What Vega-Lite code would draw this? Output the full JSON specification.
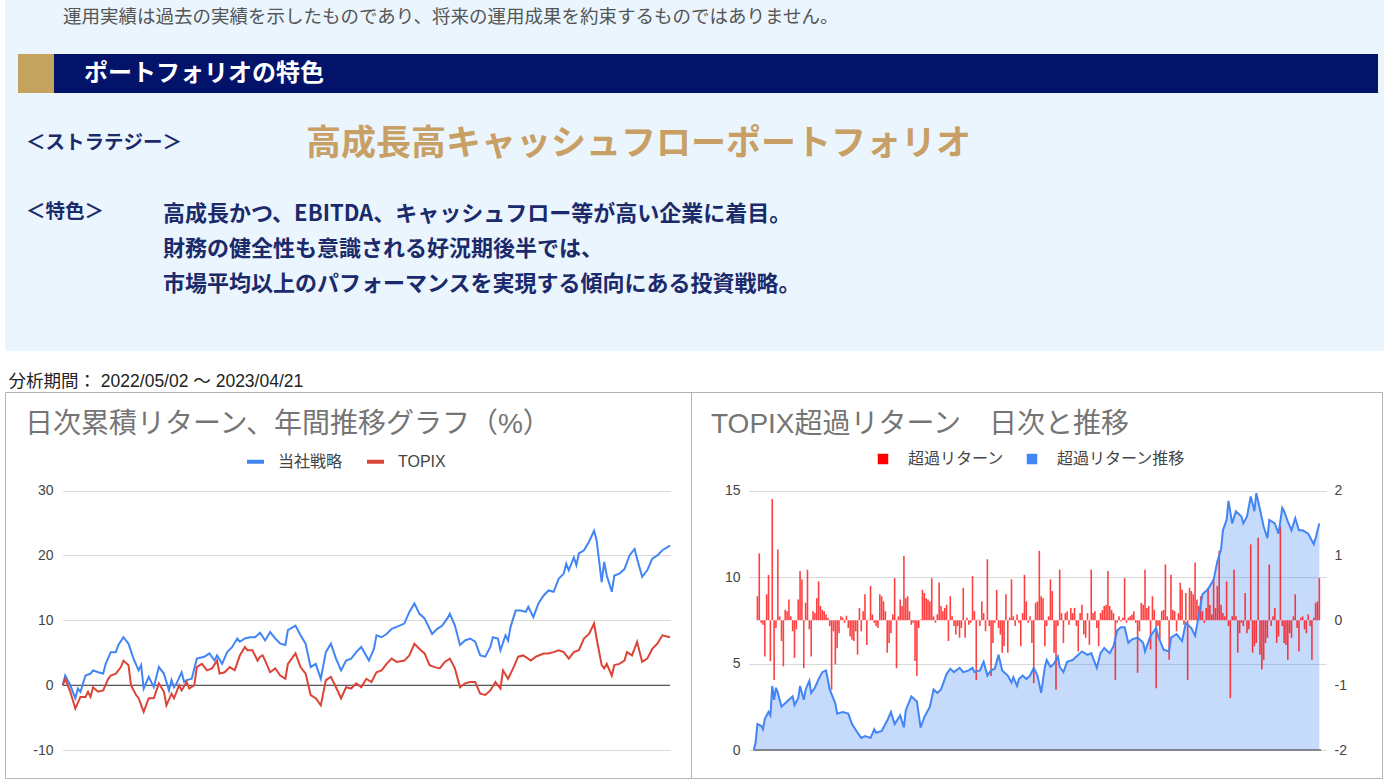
{
"$schema": "https://vega.github.io/schema/vega-lite/v6.json",
"background": "white",
"padding": {"left": 4, "top": 0, "right": 0, "bottom": 0},
"spacing": 21,
"config": {
  "font": "Liberation Sans, Noto Sans CJK JP",
  "view": {"stroke": null},
  "axisX": {"disable": true}
},
"resolve": {"scale": {"color": "independent"}, "legend": {"color": "independent"}},
"datasets": {
"strategy": [{"d":0,"v":0},{"d":1,"v":1.5},{"d":3,"v":0},{"d":5,"v":-2},{"d":6,"v":-0.5},{"d":7,"v":-1},{"d":9,"v":1.5},{"d":11,"v":1.8},{"d":12,"v":2.3},{"d":14,"v":2},{"d":16,"v":1.8},{"d":17,"v":3.3},{"d":19,"v":5.1},{"d":21,"v":5.1},{"d":22,"v":6.2},{"d":24,"v":7.4},{"d":26,"v":6.4},{"d":28,"v":4.1},{"d":30,"v":2.3},{"d":31,"v":3.1},{"d":32,"v":-0.5},{"d":34,"v":1.3},{"d":36,"v":-0.3},{"d":38,"v":2.8},{"d":40,"v":1.8},{"d":42,"v":-0.8},{"d":43,"v":0.8},{"d":44,"v":-0.3},{"d":45,"v":0.3},{"d":47,"v":2},{"d":48,"v":0.5},{"d":49,"v":0.8},{"d":51,"v":1},{"d":53,"v":4.1},{"d":56,"v":4.4},{"d":58,"v":4.9},{"d":60,"v":3.8},{"d":61,"v":4.6},{"d":63,"v":3.3},{"d":65,"v":5.1},{"d":67,"v":5.9},{"d":69,"v":7.2},{"d":70,"v":6.7},{"d":72,"v":7.2},{"d":74,"v":7.4},{"d":76,"v":7.4},{"d":78,"v":8.1},{"d":80,"v":6.9},{"d":82,"v":8.2},{"d":84,"v":7.2},{"d":86,"v":6.4},{"d":88,"v":6.2},{"d":89,"v":8.5},{"d":92,"v":9.2},{"d":94,"v":7.7},{"d":96,"v":6.4},{"d":98,"v":2.8},{"d":100,"v":3.3},{"d":102,"v":1},{"d":104,"v":5.1},{"d":106,"v":6.4},{"d":108,"v":4.1},{"d":110,"v":2.3},{"d":112,"v":3.8},{"d":114,"v":4.1},{"d":116,"v":5.1},{"d":118,"v":5.9},{"d":121,"v":3.8},{"d":123,"v":5.6},{"d":124,"v":7.7},{"d":126,"v":7.4},{"d":128,"v":7.9},{"d":130,"v":8.7},{"d":132,"v":9},{"d":135,"v":9.5},{"d":137,"v":11.3},{"d":139,"v":12.6},{"d":141,"v":11},{"d":143,"v":10.3},{"d":146,"v":7.9},{"d":148,"v":8.7},{"d":150,"v":9.2},{"d":152,"v":10.3},{"d":153,"v":11},{"d":155,"v":9.2},{"d":157,"v":6.2},{"d":159,"v":6.9},{"d":161,"v":7.2},{"d":163,"v":6.7},{"d":165,"v":4.6},{"d":167,"v":4.4},{"d":169,"v":5.9},{"d":170,"v":7.4},{"d":172,"v":7.2},{"d":173,"v":5.4},{"d":175,"v":7.7},{"d":176,"v":6.9},{"d":177,"v":9},{"d":179,"v":11.5},{"d":181,"v":11.5},{"d":183,"v":11.3},{"d":184,"v":12.1},{"d":186,"v":10.5},{"d":188,"v":12.6},{"d":190,"v":13.8},{"d":192,"v":14.6},{"d":194,"v":14.4},{"d":196,"v":16.4},{"d":198,"v":17.2},{"d":199,"v":18.7},{"d":200,"v":17.7},{"d":202,"v":19.7},{"d":203,"v":18.5},{"d":204,"v":20.3},{"d":206,"v":20.8},{"d":208,"v":22.1},{"d":210,"v":23.8},{"d":211,"v":22.3},{"d":213,"v":15.9},{"d":214,"v":19},{"d":215,"v":16.9},{"d":217,"v":14.4},{"d":218,"v":16.9},{"d":220,"v":17.2},{"d":222,"v":17.9},{"d":224,"v":20},{"d":226,"v":21},{"d":227,"v":19.5},{"d":229,"v":16.7},{"d":231,"v":17.7},{"d":233,"v":19.5},{"d":235,"v":20},{"d":237,"v":20.8},{"d":240,"v":21.5}],
"topix": [{"d":0,"v":0},{"d":1,"v":1},{"d":3,"v":-1},{"d":4,"v":-2.3},{"d":5,"v":-3.6},{"d":7,"v":-1.8},{"d":9,"v":-1.8},{"d":10,"v":-1},{"d":11,"v":-1.8},{"d":12,"v":-0.3},{"d":14,"v":-1},{"d":16,"v":-0.8},{"d":18,"v":1},{"d":19,"v":1.5},{"d":21,"v":1.8},{"d":23,"v":2.8},{"d":24,"v":3.8},{"d":26,"v":3.1},{"d":27,"v":0},{"d":29,"v":-1.5},{"d":30,"v":-2},{"d":32,"v":-4.1},{"d":34,"v":-2},{"d":36,"v":-2},{"d":38,"v":0.3},{"d":40,"v":-1},{"d":41,"v":-3.1},{"d":43,"v":-1.3},{"d":44,"v":-2},{"d":46,"v":0},{"d":47,"v":-0.8},{"d":49,"v":0.5},{"d":50,"v":-0.5},{"d":52,"v":0},{"d":53,"v":2.8},{"d":55,"v":3.3},{"d":57,"v":2.3},{"d":59,"v":2.6},{"d":61,"v":3.8},{"d":62,"v":1.8},{"d":64,"v":2},{"d":66,"v":2.8},{"d":68,"v":2.3},{"d":70,"v":4.6},{"d":72,"v":5.9},{"d":73,"v":5.4},{"d":75,"v":5.4},{"d":77,"v":3.8},{"d":78,"v":4.4},{"d":79,"v":4.6},{"d":80,"v":3.8},{"d":82,"v":2},{"d":84,"v":2.6},{"d":86,"v":1.5},{"d":88,"v":1},{"d":89,"v":3.3},{"d":92,"v":4.9},{"d":94,"v":2.8},{"d":96,"v":1.8},{"d":98,"v":-1.5},{"d":100,"v":-2},{"d":102,"v":-3.1},{"d":104,"v":0.8},{"d":106,"v":1.3},{"d":108,"v":-0.3},{"d":110,"v":-2},{"d":112,"v":-0.3},{"d":114,"v":-0.5},{"d":116,"v":0.3},{"d":118,"v":-0.3},{"d":120,"v":1},{"d":122,"v":0.5},{"d":124,"v":2},{"d":126,"v":2.3},{"d":128,"v":3.3},{"d":130,"v":4.1},{"d":132,"v":3.6},{"d":135,"v":3.8},{"d":137,"v":4.6},{"d":139,"v":6.4},{"d":141,"v":5.6},{"d":143,"v":4.9},{"d":145,"v":3.1},{"d":147,"v":2.8},{"d":149,"v":2.6},{"d":151,"v":3.6},{"d":153,"v":4.1},{"d":155,"v":2.6},{"d":157,"v":-0.3},{"d":159,"v":0.3},{"d":161,"v":0.5},{"d":163,"v":0.5},{"d":165,"v":-1.3},{"d":167,"v":-1.5},{"d":169,"v":-0.8},{"d":171,"v":0.5},{"d":173,"v":-0.5},{"d":174,"v":2.3},{"d":176,"v":1},{"d":178,"v":2.6},{"d":180,"v":4.4},{"d":182,"v":4.6},{"d":185,"v":3.8},{"d":187,"v":4.4},{"d":190,"v":4.9},{"d":192,"v":4.9},{"d":194,"v":5.1},{"d":196,"v":5.4},{"d":198,"v":5.1},{"d":200,"v":4.1},{"d":202,"v":5.1},{"d":204,"v":5.4},{"d":206,"v":7.2},{"d":208,"v":7.9},{"d":210,"v":9.5},{"d":211,"v":7.2},{"d":213,"v":3.1},{"d":214,"v":2.6},{"d":215,"v":3.3},{"d":217,"v":1.5},{"d":218,"v":3.1},{"d":220,"v":3.3},{"d":222,"v":3.8},{"d":223,"v":5.1},{"d":225,"v":4.6},{"d":227,"v":6.7},{"d":229,"v":3.6},{"d":231,"v":4.1},{"d":233,"v":5.6},{"d":235,"v":6.4},{"d":237,"v":7.7},{"d":240,"v":7.4}],
"trend": [{"n":-2,"v":0},{"n":-1,"v":0.4},{"n":0,"v":1.5},{"n":2,"v":1.4},{"n":3,"v":1.2},{"n":4,"v":1.8},{"n":6,"v":2.2},{"n":7,"v":2},{"n":8,"v":3.7},{"n":9,"v":2.9},{"n":10,"v":3.6},{"n":11,"v":3.3},{"n":13,"v":2.5},{"n":15,"v":2.7},{"n":17,"v":2.9},{"n":19,"v":3.1},{"n":20,"v":2.6},{"n":22,"v":3},{"n":23,"v":3.7},{"n":25,"v":2.9},{"n":26,"v":3.5},{"n":28,"v":4},{"n":29,"v":3.3},{"n":31,"v":3.6},{"n":33,"v":4.1},{"n":35,"v":4.5},{"n":37,"v":4.6},{"n":39,"v":3.5},{"n":42,"v":2.7},{"n":43,"v":2.1},{"n":46,"v":2.2},{"n":49,"v":2.1},{"n":51,"v":1.5},{"n":54,"v":1},{"n":56,"v":0.7},{"n":58,"v":0.8},{"n":61,"v":0.7},{"n":63,"v":1.2},{"n":64,"v":1},{"n":67,"v":1.1},{"n":70,"v":1.7},{"n":72,"v":2.2},{"n":74,"v":1.5},{"n":77,"v":2},{"n":79,"v":1.3},{"n":80,"v":2.3},{"n":83,"v":3.1},{"n":86,"v":2.8},{"n":88,"v":1.3},{"n":90,"v":1.9},{"n":93,"v":2.5},{"n":95,"v":3.5},{"n":97,"v":3.3},{"n":99,"v":3.5},{"n":101,"v":4.1},{"n":102,"v":4.4},{"n":104,"v":4.7},{"n":106,"v":4.5},{"n":109,"v":4.75},{"n":111,"v":4.5},{"n":114,"v":4.6},{"n":116,"v":4.75},{"n":117,"v":4.5},{"n":120,"v":4.6},{"n":122,"v":5.1},{"n":124,"v":4.3},{"n":126,"v":4.6},{"n":128,"v":4.7},{"n":130,"v":5.5},{"n":132,"v":4.6},{"n":133,"v":4.5},{"n":135,"v":4.3},{"n":137,"v":3.9},{"n":138,"v":4.2},{"n":140,"v":3.7},{"n":141,"v":4.1},{"n":143,"v":4.3},{"n":145,"v":4.1},{"n":147,"v":4.3},{"n":149,"v":4.75},{"n":151,"v":4.3},{"n":153,"v":3.3},{"n":155,"v":4.8},{"n":156,"v":5.2},{"n":158,"v":4.8},{"n":160,"v":5},{"n":162,"v":5.4},{"n":163,"v":4.8},{"n":165,"v":4.5},{"n":167,"v":5.1},{"n":170,"v":5.2},{"n":172,"v":5.4},{"n":175,"v":5.7},{"n":178,"v":5.5},{"n":180,"v":5.6},{"n":183,"v":4.75},{"n":185,"v":5.6},{"n":187,"v":5.9},{"n":190,"v":5.6},{"n":192,"v":6},{"n":194,"v":6.9},{"n":196,"v":7.1},{"n":198,"v":7.1},{"n":200,"v":6.2},{"n":202,"v":6.4},{"n":205,"v":6.5},{"n":208,"v":6.2},{"n":209,"v":5.7},{"n":212,"v":6.6},{"n":215,"v":7.05},{"n":216,"v":6.6},{"n":219,"v":5.8},{"n":222,"v":5.7},{"n":223,"v":6.5},{"n":226,"v":6.7},{"n":229,"v":6.3},{"n":231,"v":7.35},{"n":234,"v":7.05},{"n":236,"v":6.6},{"n":238,"v":7.8},{"n":240,"v":9},{"n":243,"v":9.3},{"n":246,"v":9.85},{"n":248,"v":10.9},{"n":250,"v":11.6},{"n":251,"v":12.7},{"n":253,"v":13.3},{"n":254,"v":14.4},{"n":256,"v":13.1},{"n":258,"v":13.8},{"n":261,"v":13.5},{"n":262,"v":13.1},{"n":264,"v":13.5},{"n":266,"v":14.65},{"n":268,"v":13.8},{"n":269,"v":14.85},{"n":271,"v":13.9},{"n":273,"v":12.9},{"n":275,"v":12.25},{"n":276,"v":13.3},{"n":279,"v":13.1},{"n":281,"v":12.5},{"n":283,"v":14},{"n":284,"v":13.8},{"n":286,"v":13.2},{"n":288,"v":12.7},{"n":290,"v":13.4},{"n":292,"v":12.7},{"n":294,"v":12.7},{"n":297,"v":12.5},{"n":300,"v":11.9},{"n":301,"v":12.25},{"n":303,"v":13.1}],
"excess": [{"n":0,"v":0.37},{"n":1,"v":1.03},{"n":2,"v":-0.04},{"n":3,"v":-0.07},{"n":4,"v":-0.56},{"n":5,"v":0.4},{"n":6,"v":0.7},{"n":7,"v":-0.63},{"n":8,"v":1.87},{"n":9,"v":-0.92},{"n":10,"v":-0.12},{"n":11,"v":1.09},{"n":12,"v":0.06},{"n":13,"v":-0.32},{"n":14,"v":-0.71},{"n":15,"v":0.16},{"n":16,"v":0.14},{"n":17,"v":0.32},{"n":18,"v":0.06},{"n":19,"v":-0.17},{"n":20,"v":-0.58},{"n":21,"v":-0.14},{"n":22,"v":0.32},{"n":23,"v":0.76},{"n":24,"v":0.63},{"n":25,"v":-0.74},{"n":26,"v":0.27},{"n":27,"v":0.78},{"n":28,"v":-0.14},{"n":29,"v":-0.56},{"n":30,"v":0.14},{"n":31,"v":0.11},{"n":32,"v":0.34},{"n":33,"v":0.6},{"n":34,"v":0.22},{"n":35,"v":0.16},{"n":36,"v":0.14},{"n":37,"v":0.09},{"n":38,"v":0.04},{"n":39,"v":-0.09},{"n":40,"v":-1.07},{"n":41,"v":-0.17},{"n":42,"v":-0.68},{"n":43,"v":-0.43},{"n":44,"v":-0.2},{"n":45,"v":0.06},{"n":46,"v":0.04},{"n":47,"v":-0.04},{"n":48,"v":0.07},{"n":49,"v":-0.12},{"n":50,"v":-0.25},{"n":51,"v":-0.3},{"n":52,"v":-0.32},{"n":53,"v":-0.17},{"n":54,"v":-0.53},{"n":55,"v":0.19},{"n":56,"v":-0.17},{"n":57,"v":0.14},{"n":58,"v":0.4},{"n":59,"v":-0.38},{"n":60,"v":0.01},{"n":61,"v":0.53},{"n":62,"v":0.09},{"n":63,"v":-0.04},{"n":64,"v":-0.09},{"n":65,"v":-0.12},{"n":66,"v":0.4},{"n":67,"v":0.37},{"n":68,"v":0.29},{"n":69,"v":0.14},{"n":70,"v":-0.5},{"n":71,"v":-0.35},{"n":72,"v":-0.2},{"n":73,"v":0.09},{"n":74,"v":0.65},{"n":75,"v":-0.74},{"n":76,"v":0.06},{"n":77,"v":0.32},{"n":78,"v":0.22},{"n":79,"v":0.99},{"n":80,"v":0.34},{"n":81,"v":0.37},{"n":82,"v":0.14},{"n":83,"v":-0.07},{"n":84,"v":-0.04},{"n":85,"v":-0.63},{"n":86,"v":-0.86},{"n":87,"v":-0.12},{"n":88,"v":0.01},{"n":89,"v":0.47},{"n":90,"v":0.42},{"n":91,"v":0.34},{"n":92,"v":0.32},{"n":93,"v":0.29},{"n":94,"v":0.65},{"n":95,"v":0.06},{"n":96,"v":-0.04},{"n":97,"v":0.09},{"n":98,"v":0.58},{"n":99,"v":0.22},{"n":100,"v":0.14},{"n":101,"v":0.19},{"n":102,"v":0.24},{"n":103,"v":-0.32},{"n":104,"v":0.37},{"n":105,"v":0.06},{"n":106,"v":-0.09},{"n":107,"v":-0.22},{"n":108,"v":-0.09},{"n":109,"v":-0.27},{"n":110,"v":-0.12},{"n":111,"v":0.5},{"n":112,"v":-0.27},{"n":113,"v":0.04},{"n":114,"v":-0.07},{"n":115,"v":-0.04},{"n":116,"v":0.68},{"n":117,"v":0.14},{"n":118,"v":-0.92},{"n":119,"v":0.01},{"n":120,"v":-0.09},{"n":121,"v":0.29},{"n":122,"v":0.11},{"n":123,"v":-0.17},{"n":124,"v":0.94},{"n":125,"v":-0.09},{"n":126,"v":-0.86},{"n":127,"v":-0.35},{"n":128,"v":-0.04},{"n":129,"v":0.47},{"n":130,"v":-0.12},{"n":131,"v":-0.22},{"n":132,"v":-0.5},{"n":133,"v":-0.4},{"n":134,"v":0.4},{"n":135,"v":-0.5},{"n":136,"v":0.04},{"n":137,"v":0.63},{"n":138,"v":0.06},{"n":139,"v":-0.09},{"n":140,"v":0.09},{"n":141,"v":-0.04},{"n":142,"v":-0.4},{"n":143,"v":0.11},{"n":144,"v":0.7},{"n":145,"v":0.29},{"n":146,"v":-0.04},{"n":147,"v":0.06},{"n":148,"v":-0.35},{"n":149,"v":-0.97},{"n":150,"v":0.27},{"n":151,"v":0.29},{"n":152,"v":1.07},{"n":153,"v":0.37},{"n":154,"v":0.34},{"n":155,"v":-0.4},{"n":156,"v":-0.09},{"n":157,"v":0.06},{"n":158,"v":0.63},{"n":159,"v":0.45},{"n":160,"v":-0.5},{"n":161,"v":-1.07},{"n":162,"v":-0.09},{"n":163,"v":0.78},{"n":164,"v":0.11},{"n":165,"v":-0.35},{"n":166,"v":0.11},{"n":167,"v":0.14},{"n":168,"v":-0.07},{"n":169,"v":0.19},{"n":170,"v":0.11},{"n":171,"v":0.19},{"n":172,"v":-0.09},{"n":173,"v":-0.48},{"n":174,"v":0.11},{"n":175,"v":0.24},{"n":176,"v":-0.22},{"n":177,"v":-0.27},{"n":178,"v":0.11},{"n":179,"v":-0.38},{"n":180,"v":0.78},{"n":181,"v":0.11},{"n":182,"v":0.14},{"n":183,"v":-0.12},{"n":184,"v":-0.4},{"n":185,"v":0.11},{"n":186,"v":0.16},{"n":187,"v":0.22},{"n":188,"v":0.24},{"n":189,"v":0.76},{"n":190,"v":0.22},{"n":191,"v":0.16},{"n":192,"v":0.11},{"n":193,"v":-0.92},{"n":194,"v":-0.04},{"n":195,"v":0.06},{"n":196,"v":-0.02},{"n":197,"v":0.04},{"n":198,"v":0.65},{"n":199,"v":-0.04},{"n":200,"v":0.04},{"n":201,"v":0.06},{"n":202,"v":0.09},{"n":203,"v":0.14},{"n":204,"v":-0.04},{"n":205,"v":-0.81},{"n":206,"v":-0.17},{"n":207,"v":0.27},{"n":208,"v":0.24},{"n":209,"v":0.78},{"n":210,"v":0.19},{"n":211,"v":0.22},{"n":212,"v":-0.45},{"n":213,"v":0.37},{"n":214,"v":0.16},{"n":215,"v":-1.05},{"n":216,"v":-0.09},{"n":217,"v":-0.3},{"n":218,"v":0.14},{"n":219,"v":0.16},{"n":220,"v":0.86},{"n":221,"v":0.06},{"n":222,"v":-0.61},{"n":223,"v":0.7},{"n":224,"v":0.16},{"n":225,"v":0.14},{"n":226,"v":-0.17},{"n":227,"v":0.11},{"n":228,"v":0.58},{"n":229,"v":0.47},{"n":230,"v":-0.07},{"n":231,"v":0.42},{"n":232,"v":-0.92},{"n":233,"v":0.5},{"n":234,"v":0.45},{"n":235,"v":0.4},{"n":236,"v":0.89},{"n":237,"v":0.32},{"n":238,"v":0.22},{"n":239,"v":0.37},{"n":240,"v":0.14},{"n":241,"v":-0.04},{"n":242,"v":0.19},{"n":243,"v":0.5},{"n":244,"v":0.24},{"n":245,"v":0.09},{"n":246,"v":0.63},{"n":247,"v":0.19},{"n":248,"v":0.53},{"n":249,"v":1.07},{"n":250,"v":0.24},{"n":251,"v":0.11},{"n":252,"v":0.06},{"n":253,"v":0.6},{"n":254,"v":-0.09},{"n":255,"v":-1.2},{"n":256,"v":0.06},{"n":257,"v":0.78},{"n":258,"v":0.06},{"n":259,"v":-0.5},{"n":260,"v":-0.2},{"n":261,"v":-0.04},{"n":262,"v":-0.09},{"n":263,"v":0.42},{"n":264,"v":-0.2},{"n":265,"v":-0.14},{"n":266,"v":1.17},{"n":267,"v":-0.5},{"n":268,"v":-0.4},{"n":269,"v":-0.35},{"n":270,"v":1.27},{"n":271,"v":-0.53},{"n":272,"v":-0.76},{"n":273,"v":-0.61},{"n":274,"v":-0.35},{"n":275,"v":-0.27},{"n":276,"v":0.86},{"n":277,"v":-0.09},{"n":278,"v":0.06},{"n":279,"v":0.19},{"n":280,"v":-0.35},{"n":281,"v":-0.25},{"n":282,"v":1.45},{"n":283,"v":-0.09},{"n":284,"v":-0.35},{"n":285,"v":-0.38},{"n":286,"v":-0.61},{"n":287,"v":-0.2},{"n":288,"v":-0.27},{"n":289,"v":0.06},{"n":290,"v":0.4},{"n":291,"v":-0.12},{"n":292,"v":-0.48},{"n":293,"v":0.04},{"n":294,"v":0.06},{"n":295,"v":-0.14},{"n":296,"v":-0.2},{"n":297,"v":0.09},{"n":298,"v":-0.09},{"n":299,"v":-0.61},{"n":300,"v":0.04},{"n":301,"v":0.27},{"n":302,"v":0.29},{"n":303,"v":0.65}]
},
"vconcat": [
{
  "width": 1379, "height": 351,
  "view": {"fill": "#eaf5fd", "stroke": null},
  "layer": [
    {"data": {"values": [{"t": "運用実績は過去の実績を示したものであり、将来の運用成果を約束するものではありません。"}]},
     "mark": {"type": "text", "x": 58, "y": 17, "align": "left", "baseline": "middle", "fontSize": 18.5, "color": "#555555", "font": "Noto Sans CJK JP"},
     "encoding": {"text": {"field": "t"}}},
    {"data": {"values": [{}]}, "mark": {"type": "rect", "x": 13, "x2": 1373, "y": 54, "y2": 93, "fill": "#03136a"}, "encoding": {}},
    {"data": {"values": [{}]}, "mark": {"type": "rect", "x": 13, "x2": 49, "y": 54, "y2": 93, "fill": "#c4a35f"}, "encoding": {}},
    {"data": {"values": [{"t": "ポートフォリオの特色"}]},
     "mark": {"type": "text", "x": 79, "y": 74, "align": "left", "baseline": "middle", "fontSize": 24, "fontWeight": "bold", "color": "white", "font": "Noto Sans CJK JP"},
     "encoding": {"text": {"field": "t"}}},
    {"data": {"values": [{"t": "＜ストラテジー＞"}]},
     "mark": {"type": "text", "x": 21, "y": 143, "align": "left", "baseline": "middle", "fontSize": 19.5, "fontWeight": "bold", "color": "#1b2a6b", "font": "Noto Sans CJK JP"},
     "encoding": {"text": {"field": "t"}}},
    {"data": {"values": [{"t": "＜特色＞"}]},
     "mark": {"type": "text", "x": 21, "y": 212, "align": "left", "baseline": "middle", "fontSize": 19.5, "fontWeight": "bold", "color": "#1b2a6b", "font": "Noto Sans CJK JP"},
     "encoding": {"text": {"field": "t"}}},
    {"data": {"values": [{"t": "高成長高キャッシュフローポートフォリオ"}]},
     "mark": {"type": "text", "x": 301, "y": 144, "align": "left", "baseline": "middle", "fontSize": 35, "fontWeight": "bold", "color": "#c8a065", "font": "Noto Sans CJK JP"},
     "encoding": {"text": {"field": "t"}}},
    {"data": {"values": [{"t": ["高成長かつ、EBITDA、キャッシュフロー等が高い企業に着目。", "財務の健全性も意識される好況期後半では、", "市場平均以上のパフォーマンスを実現する傾向にある投資戦略。"]}]},
     "mark": {"type": "text", "x": 158, "y": 204, "align": "left", "baseline": "top", "lineHeight": 35, "fontSize": 22, "fontWeight": "bold", "color": "#1b2a6b", "font": "Noto Sans CJK JP"},
     "encoding": {"text": {"field": "t"}}}
  ]
},
{
  "title": {"text": "分析期間： 2022/05/02 ～ 2023/04/21", "anchor": "start", "fontSize": 17.5, "fontWeight": "normal", "color": "#222222", "offset": 1.5, "dx": 4},
  "columns": 2,
  "align": "none",
  "bounds": "flush",
  "spacing": 0,
  "resolve": {"scale": {"color": "independent"}, "legend": {"color": "independent"}},
  "concat": [
    {
      "width": 686, "height": 386,
      "view": {"stroke": "#b3b3b3", "fill": "white"},
      "title": {"text": "日次累積リターン、年間推移グラフ（%）", "anchor": "start", "frame": "group", "offset": -47, "dx": 20, "fontSize": 28, "fontWeight": "normal", "color": "#757575"},
      "layer": [
        {"data": {"values": [{}]},
         "mark": {"type": "rule", "color": "#333333", "strokeWidth": 1},
         "encoding": {
           "x": {"datum": 0, "type": "quantitative", "scale": {"domain": [0, 240], "range": [57.7, 665], "nice": false, "zero": false}},
           "x2": {"datum": 240},
           "y": {"datum": 0, "type": "quantitative", "scale": {"domain": [-10, 30], "range": [358.2, 98.5], "nice": false, "zero": false},
                 "axis": {"orient": "left", "offset": -55, "values": [-10, 0, 10, 20, 30], "domain": false, "ticks": false, "tickSize": 0, "labelPadding": 7, "labelFontSize": 14, "labelColor": "#444444", "grid": true, "gridColor": "#d9d9d9", "title": null, "labelExpr": "'' + datum.value"}}
         }},
        {"data": {"name": "strategy"},
         "mark": {"type": "line", "strokeWidth": 2},
         "encoding": {
           "x": {"field": "d", "type": "quantitative"},
           "y": {"field": "v", "type": "quantitative"},
           "color": {"datum": "当社戦略", "scale": {"domain": ["当社戦略", "TOPIX"], "range": ["#4285f4", "#db4437"]},
                     "legend": {"orient": "none", "legendX": 240, "legendY": 59, "direction": "horizontal", "title": null, "symbolType": "stroke", "symbolSize": 289, "symbolStrokeWidth": 4, "labelFontSize": 16, "labelColor": "#444444", "labelOffset": 12, "columnPadding": 16}}
         }},
        {"data": {"name": "topix"},
         "mark": {"type": "line", "strokeWidth": 2},
         "encoding": {
           "x": {"field": "d", "type": "quantitative"},
           "y": {"field": "v", "type": "quantitative"},
           "color": {"datum": "TOPIX"}
         }}
      ]
    },
    {
      "width": 691, "height": 386,
      "view": {"stroke": "#b3b3b3", "fill": "white"},
      "title": {"text": "TOPIX超過リターン　日次と推移", "anchor": "start", "frame": "group", "offset": -47, "dx": 20, "fontSize": 28, "fontWeight": "normal", "color": "#757575"},
      "resolve": {"scale": {"y": "independent"}, "axis": {"y": "independent"}},
      "layer": [
        {"data": {"name": "trend"},
         "mark": {"type": "area", "opacity": 1, "fillOpacity": 0.3},
         "encoding": {
           "x": {"field": "n", "type": "quantitative", "scale": {"domain": [-2, 304], "range": [57.7, 635.2], "nice": false, "zero": false}},
           "y": {"field": "v", "type": "quantitative", "scale": {"domain": [0, 15], "range": [358, 98.5], "nice": false},
                 "axis": {"orient": "left", "offset": -57, "values": [0, 5, 10, 15], "domain": false, "ticks": false, "tickSize": 0, "labelPadding": 8, "labelFontSize": 14, "labelColor": "#444444", "grid": true, "gridColor": "#d9d9d9", "title": null, "labelExpr": "'' + datum.value"}},
           "color": {"datum": "超過リターン推移", "scale": {"domain": ["超過リターン", "超過リターン推移"], "range": ["#ff0000", "#4285f4"]},
                     "legend": {"orient": "none", "legendX": 184, "legendY": 59, "direction": "horizontal", "title": null, "symbolType": "square", "symbolSize": 110, "symbolOpacity": 1, "symbolStrokeWidth": 0, "labelFontSize": 16, "labelColor": "#444444", "labelOffset": 17, "columnPadding": 19,
                                "encode": {"symbols": {"update": {"opacity": {"value": 1}, "fillOpacity": {"value": 1}}}}}}
         }},
        {"data": {"values": [{}]},
         "mark": {"type": "rule", "color": "#333333", "strokeWidth": 1},
         "encoding": {
           "x": {"datum": -2, "type": "quantitative"},
           "x2": {"datum": 304},
           "y": {"datum": 0, "type": "quantitative", "scale": {"domain": [0, 15], "range": [358, 98.5], "nice": false}, "axis": null}
         }},
        {"data": {"name": "excess"},
         "mark": {"type": "bar", "size": 1.6, "opacity": 0.75},
         "encoding": {
           "x": {"field": "n", "type": "quantitative"},
           "y": {"field": "v", "type": "quantitative", "scale": {"domain": [-2, 2], "range": [358, 98.5], "nice": false},
                 "axis": {"orient": "right", "offset": -56, "values": [-2, -1, 0, 1, 2], "domain": false, "ticks": false, "tickSize": 0, "labelPadding": 8, "labelFontSize": 14, "labelColor": "#444444", "grid": false, "title": null, "labelExpr": "'' + datum.value"}},
           "color": {"datum": "超過リターン"}
         }},
        {"data": {"name": "trend"},
         "mark": {"type": "line", "color": "#4285f4", "strokeWidth": 2},
         "encoding": {
           "x": {"field": "n", "type": "quantitative"},
           "y": {"field": "v", "type": "quantitative", "scale": {"domain": [0, 15], "range": [358, 98.5], "nice": false}, "axis": null}
         }}
      ]
    }
  ]
}
]
}
